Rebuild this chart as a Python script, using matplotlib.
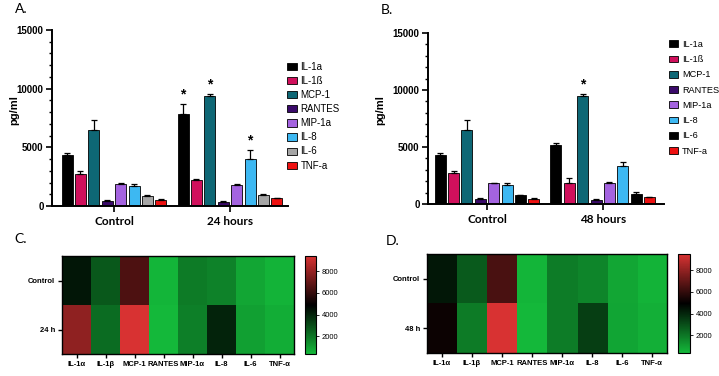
import numpy as np
import matplotlib
matplotlib.use('Agg')
import matplotlib.pyplot as plt
from matplotlib.colors import LinearSegmentedColormap
from matplotlib.patches import Patch
from matplotlib.ticker import MultipleLocator

plt.rcParams['font.family'] = ['Liberation Sans', 'DejaVu Sans']

# data (pg/ml)
cytokines = ['IL-1a', 'IL-1ß', 'MCP-1', 'RANTES', 'MIP-1a', 'IL-8', 'IL-6', 'TNF-a']
heat_labels = ['IL-1α', 'IL-1β', 'MCP-1', 'RANTES', 'MIP-1α', 'IL-8', 'IL-6', 'TNF-α']

ctrl_a = [4330, 2700, 6480, 450, 1870, 1680, 820, 510]
ctrl_a_err = [220, 280, 850, 100, 60, 190, 80, 60]
h24 = [7870, 2220, 9400, 370, 1760, 4030, 940, 650]
h24_err = [790, 50, 150, 80, 90, 710, 80, 60]
sig_24 = [0, 2, 5]

ctrl_b = [4320, 2680, 6480, 440, 1840, 1630, 790, 470]
ctrl_b_err = [170, 240, 870, 60, 40, 240, 40, 40]
h48 = [5200, 1870, 9500, 350, 1840, 3360, 850, 580]
h48_err = [150, 410, 150, 50, 120, 320, 180, 60]
sig_48 = [2]

colors_a = ['#000000', '#d0105c', '#0e6775', '#3a0a6a', '#a463e0', '#3db8f2', '#a6a6a6', '#ee1111']
colors_b = ['#000000', '#d0105c', '#0e6775', '#3a0a6a', '#a463e0', '#3db8f2', '#000000', '#ee1111']

fig = plt.figure(figsize=(7.19, 3.76), dpi=100)
W, H = 719, 376


def px_axes(x0, y0, x1, y1):
    return fig.add_axes([x0 / W, 1 - y1 / H, (x1 - x0) / W, (y1 - y0) / H])


def bar_panel(ax, groups, ctrl, ctrl_err, treat, treat_err, colors, sig, xlim):
    n = len(ctrl)
    pitch = 0.1155
    width = 0.095
    offs = (np.arange(n) - (n - 1) / 2) * pitch
    for gi, (vals, errs) in enumerate([(ctrl, ctrl_err), (treat, treat_err)]):
        ax.bar(gi + offs, vals, width=width, color=colors, edgecolor='black', linewidth=0.6, zorder=2)
        ax.errorbar(gi + offs, vals, yerr=[np.zeros(n), errs], fmt='none', ecolor='black',
                    elinewidth=0.9, capsize=2.5, capthick=0.9, zorder=3)
    for i in sig:
        ax.text(1 + offs[i], treat[i] + treat_err[i] + 250, '*', ha='center', va='bottom',
                fontsize=10, fontweight='bold')
    ax.set_xlim(*xlim)
    ax.set_ylim(0, 15000)
    ax.set_yticks([0, 5000, 10000, 15000])
    ax.yaxis.set_minor_locator(MultipleLocator(1000))
    ax.set_xticks([0, 1])
    ax.set_xticklabels(groups, fontsize=8.5, fontweight='bold', family=['Lato', 'DejaVu Sans'])
    for lab in ax.get_yticklabels():
        lab.set_fontsize(7)
        lab.set_fontweight('bold')
    ax.spines['top'].set_visible(False)
    ax.spines['right'].set_visible(False)
    ax.spines['left'].set_linewidth(1.4)
    ax.spines['bottom'].set_linewidth(1.4)
    ax.tick_params(axis='both', which='major', length=4, width=1.2, pad=2)
    ax.tick_params(axis='y', which='minor', length=2.5, width=1)
    ax.tick_params(axis='x', pad=3)


def legend_at(colors, x, y, spacing, size):
    handles = [Patch(facecolor=c, edgecolor='black', linewidth=0.6) for c in colors]
    fig.legend(handles, cytokines, loc='upper left', bbox_to_anchor=(x / W, 1 - y / H), frameon=False,
               borderpad=0, borderaxespad=0, fontsize=size, handlelength=1.0, handleheight=0.75,
               handletextpad=0.4, labelspacing=spacing)


# panel A
axA = px_axes(52, 30, 288, 206)
bar_panel(axA, ['Control', '24 hours'], ctrl_a, ctrl_a_err, h24, h24_err, colors_a, sig_24, (-0.534, 1.5))
legend_at(colors_a, 287, 62, 0.42, 7)

# panel B
axB = px_axes(428, 33, 664, 204)
bar_panel(axB, ['Control', '48 hours'], ctrl_b, ctrl_b_err, h48, h48_err, colors_b, sig_48, (-0.51, 1.53))
legend_at(colors_b, 669, 40, 0.68, 6.6)

for x, y in [(14, 110), (380, 110)]:
    fig.text(x / W, 1 - y / H, 'pg/ml', rotation=90, ha='center', va='center', fontsize=8, fontweight='bold')

# heatmaps
cmap = LinearSegmentedColormap.from_list('gkr', ['#14b83a', '#000000', '#d83232'])


def heat_panel(ax, cax, rows, row_labels):
    data = np.array(rows)
    im = ax.imshow(data, aspect='auto', cmap=cmap, vmin=data.min(), vmax=data.max())
    ax.set_xticks(range(data.shape[1]))
    ax.set_xticklabels(heat_labels, fontsize=5.5, fontweight='bold')
    ax.set_yticks(range(data.shape[0]))
    ax.set_yticklabels(row_labels, fontsize=5.5, fontweight='bold')
    ax.tick_params(length=3, width=1, pad=2)
    for s in ax.spines.values():
        s.set_linewidth(1)
    cb = fig.colorbar(im, cax=cax, ticks=[2000, 4000, 6000, 8000])
    cb.ax.tick_params(labelsize=5.5, length=2, width=0.6, pad=2)
    cb.outline.set_linewidth(0.8)


axC = px_axes(62, 256, 294, 354)
caxC = px_axes(305, 256, 316, 354)
heat_panel(axC, caxC, [ctrl_a, h24], ['Control', '24 h'])

axD = px_axes(427, 254, 667, 353)
caxD = px_axes(678, 254, 690, 353)
heat_panel(axD, caxD, [ctrl_b, h48], ['Control', '48 h'])

for lab, x, y in [('A.', 15, 9), ('B.', 381, 10), ('C.', 14, 239), ('D.', 386, 241)]:
    fig.text(x / W, 1 - y / H, lab, ha='left', va='center', fontsize=10, family=['Lato', 'DejaVu Sans'])

fig.savefig('out.png', dpi=100)
